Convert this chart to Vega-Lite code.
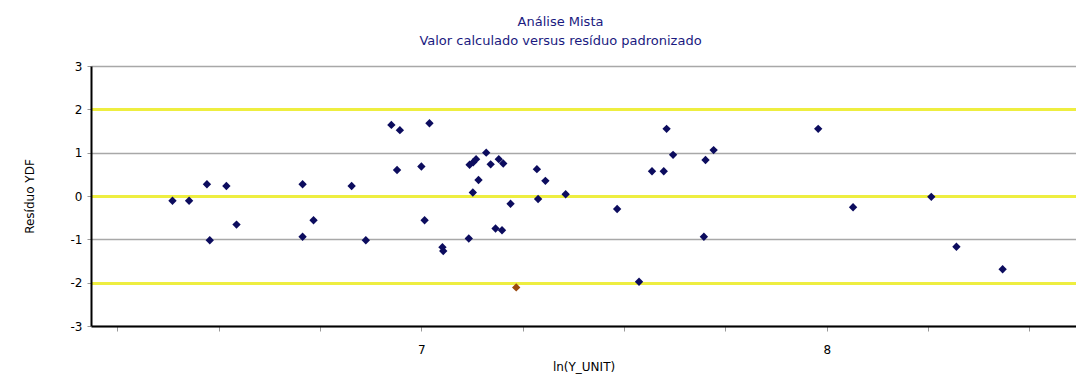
{
  "$schema": "https://vega.github.io/schema/vega-lite/v6.json",
  "autosize": {"type": "none"},
  "width": 985,
  "height": 260,
  "padding": {"left": 91, "top": 66, "right": 0, "bottom": 54},
  "background": "white",
  "config": {"view": {"stroke": null}, "font": "DejaVu Sans"},
  "title": {
    "text": ["Análise Mista", "Valor calculado versus resíduo padronizado"],
    "fontSize": 13,
    "fontWeight": "normal",
    "color": "#1a1a80",
    "lineHeight": 19,
    "offset": 12,
    "dx": -23,
    "anchor": "middle"
  },
  "data": {
    "values": [
      {"lnY": 6.386, "residuo": -0.11, "tipo": "normal"},
      {"lnY": 6.427, "residuo": -0.11, "tipo": "normal"},
      {"lnY": 6.471, "residuo": 0.27, "tipo": "normal"},
      {"lnY": 6.478, "residuo": -1.02, "tipo": "normal"},
      {"lnY": 6.519, "residuo": 0.23, "tipo": "normal"},
      {"lnY": 6.544, "residuo": -0.66, "tipo": "normal"},
      {"lnY": 6.707, "residuo": 0.27, "tipo": "normal"},
      {"lnY": 6.707, "residuo": -0.94, "tipo": "normal"},
      {"lnY": 6.734, "residuo": -0.56, "tipo": "normal"},
      {"lnY": 6.828, "residuo": 0.23, "tipo": "normal"},
      {"lnY": 6.863, "residuo": -1.02, "tipo": "normal"},
      {"lnY": 6.926, "residuo": 1.64, "tipo": "normal"},
      {"lnY": 6.947, "residuo": 1.52, "tipo": "normal"},
      {"lnY": 6.94, "residuo": 0.6, "tipo": "normal"},
      {"lnY": 7.0, "residuo": 0.68, "tipo": "normal"},
      {"lnY": 7.008, "residuo": -0.56, "tipo": "normal"},
      {"lnY": 7.02, "residuo": 1.68, "tipo": "normal"},
      {"lnY": 7.052, "residuo": -1.18, "tipo": "normal"},
      {"lnY": 7.054, "residuo": -1.27, "tipo": "normal"},
      {"lnY": 7.117, "residuo": -0.98, "tipo": "normal"},
      {"lnY": 7.119, "residuo": 0.72, "tipo": "normal"},
      {"lnY": 7.128, "residuo": 0.78, "tipo": "normal"},
      {"lnY": 7.135, "residuo": 0.85, "tipo": "normal"},
      {"lnY": 7.127, "residuo": 0.08, "tipo": "normal"},
      {"lnY": 7.141, "residuo": 0.37, "tipo": "normal"},
      {"lnY": 7.16, "residuo": 1.0, "tipo": "normal"},
      {"lnY": 7.171, "residuo": 0.73, "tipo": "normal"},
      {"lnY": 7.191, "residuo": 0.85, "tipo": "normal"},
      {"lnY": 7.202, "residuo": 0.75, "tipo": "normal"},
      {"lnY": 7.183, "residuo": -0.75, "tipo": "normal"},
      {"lnY": 7.199, "residuo": -0.79, "tipo": "normal"},
      {"lnY": 7.22, "residuo": -0.18, "tipo": "normal"},
      {"lnY": 7.234, "residuo": -2.11, "tipo": "destaque"},
      {"lnY": 7.285, "residuo": 0.62, "tipo": "normal"},
      {"lnY": 7.288, "residuo": -0.07, "tipo": "normal"},
      {"lnY": 7.306, "residuo": 0.35, "tipo": "normal"},
      {"lnY": 7.356, "residuo": 0.04, "tipo": "normal"},
      {"lnY": 7.483, "residuo": -0.3, "tipo": "normal"},
      {"lnY": 7.537, "residuo": -1.98, "tipo": "normal"},
      {"lnY": 7.569, "residuo": 0.57, "tipo": "normal"},
      {"lnY": 7.598, "residuo": 0.57, "tipo": "normal"},
      {"lnY": 7.605, "residuo": 1.55, "tipo": "normal"},
      {"lnY": 7.621, "residuo": 0.95, "tipo": "normal"},
      {"lnY": 7.697, "residuo": -0.94, "tipo": "normal"},
      {"lnY": 7.701, "residuo": 0.83, "tipo": "normal"},
      {"lnY": 7.721, "residuo": 1.06, "tipo": "normal"},
      {"lnY": 7.979, "residuo": 1.55, "tipo": "normal"},
      {"lnY": 8.065, "residuo": -0.26, "tipo": "normal"},
      {"lnY": 8.258, "residuo": -0.02, "tipo": "normal"},
      {"lnY": 8.32, "residuo": -1.17, "tipo": "normal"},
      {"lnY": 8.434, "residuo": -1.69, "tipo": "normal"}
    ]
  },
  "mark": {"type": "point", "shape": "diamond", "filled": true, "size": 70, "opacity": 1},
  "encoding": {
    "x": {
      "field": "lnY",
      "type": "quantitative",
      "scale": {"domain": [6.185, 8.615], "nice": false, "zero": false},
      "axis": {
        "title": "ln(Y_UNIT)",
        "values": [6.25, 6.5, 6.75, 7, 7.25, 7.5, 7.75, 8, 8.25, 8.5],
        "labelExpr": "datum.value % 1 === 0 ? format(datum.value, 'd') : ''",
        "grid": false,
        "domainColor": "#000000",
        "domainWidth": 2,
        "tickColor": "#999999",
        "tickSize": 5,
        "labelPadding": 13,
        "labelFontSize": 12,
        "labelColor": "#000000",
        "titleFontSize": 12,
        "titleFontWeight": "normal",
        "titleColor": "#000000",
        "titlePadding": 6
      }
    },
    "y": {
      "field": "residuo",
      "type": "quantitative",
      "scale": {"domain": [-3, 3], "nice": false},
      "axis": {
        "title": "Resíduo YDF",
        "values": [-3, -2, -1, 0, 1, 2, 3],
        "labelExpr": "replace(format(datum.value, 'd'), '−', '-')",
        "grid": true,
        "gridColor": {"condition": {"test": "datum.value === 0 || datum.value === 2 || datum.value === -2", "value": "#eeee40"}, "value": "#a8a8a8"},
        "gridWidth": {"condition": {"test": "datum.value === 0 || datum.value === 2 || datum.value === -2", "value": 3}, "value": 1.5},
        "domainColor": "#000000",
        "domainWidth": 2,
        "tickColor": "#999999",
        "tickSize": 4,
        "labelPadding": 5,
        "labelFontSize": 12,
        "labelColor": "#000000",
        "titleFontSize": 12,
        "titleFontWeight": "normal",
        "titleColor": "#000000",
        "titlePadding": 34
      }
    },
    "color": {
      "field": "tipo",
      "type": "nominal",
      "scale": {"domain": ["normal", "destaque"], "range": ["#0c0c5e", "#9a4a10"]},
      "legend": null
    }
  }
}
